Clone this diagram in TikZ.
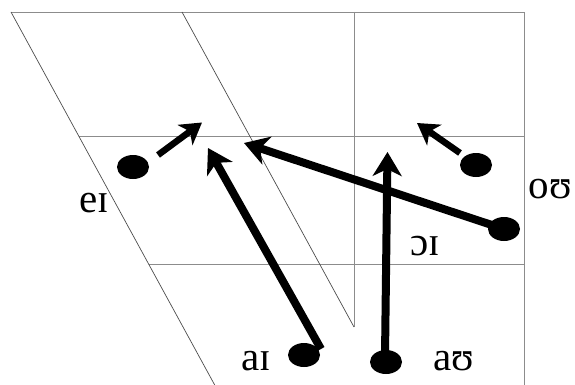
\documentclass[tikz,border=0pt]{standalone}
\usepackage{fontspec}
\setmainfont{Liberation Serif}
\usetikzlibrary{arrows.meta,shapes.geometric}
\begin{document}
\begin{tikzpicture}[x=1pt,y=-1pt,
  gridline/.style={draw=black!45, line width=0.8pt},
  slantline/.style={draw=black!70, line width=0.7pt},
  dotnode/.style={ellipse, fill=black, minimum width=32pt, minimum height=24pt, inner sep=0pt},
  lbl/.style={font=\fontsize{41}{41}\selectfont, anchor=base, inner sep=0pt},
  bigarrow/.style={line width=8pt, -{Stealth[length=24pt,width=29pt,inset=7pt]}},
  smallarrow/.style={line width=6.5pt, -{Stealth[length=21pt,width=25pt,inset=6pt]}}]
\useasboundingbox (0,0) rectangle (575,385);
% chart frame
\draw[gridline] (11,12) -- (524,12) -- (524,385);
\draw[gridline] (79,136.5) -- (524,136.5);
\draw[gridline] (149,264.5) -- (524,264.5);
\draw[gridline] (354,12) -- (354,327);
\draw[slantline] (11,12) -- (214.7,385);
\draw[slantline] (182,12) -- (354,327);
% dots
\node[dotnode] (deI) at (133,167) {};
\node[dotnode] (doU) at (476,165) {};
\node[dotnode] (doI) at (504,229) {};
\node[dotnode] (daI) at (304,355) {};
\node[dotnode] (daU) at (386,362) {};
% labels
\node[lbl] (leI) at (94,212) {eɪ};
\node[lbl] (loI) at (425.5,255) {ɔɪ};
\node[lbl] (loU) at (550,198) {oʊ};
\node[lbl] (laI) at (256,370) {aɪ};
\node[lbl] (laU) at (454,370) {aʊ};
% arrow ends
\coordinate (seI) at (158,155);
\coordinate (teI) at (202,122.5);
\coordinate (soU) at (460,153);
\coordinate (toU) at (417,123);
\coordinate (toI) at (244,143);
\coordinate (saI) at (321,349);
\coordinate (taI) at (208,148);
\coordinate (saU) at (385,356);
\coordinate (taU) at (387.5,152);
% arrows
\draw[smallarrow] (seI) -- (teI);
\draw[smallarrow] (soU) -- (toU);
\draw[bigarrow] (doI.center) -- (toI);
\draw[bigarrow] (saI) -- (taI);
\draw[bigarrow] (saU) -- (taU);
\end{tikzpicture}
\end{document}
